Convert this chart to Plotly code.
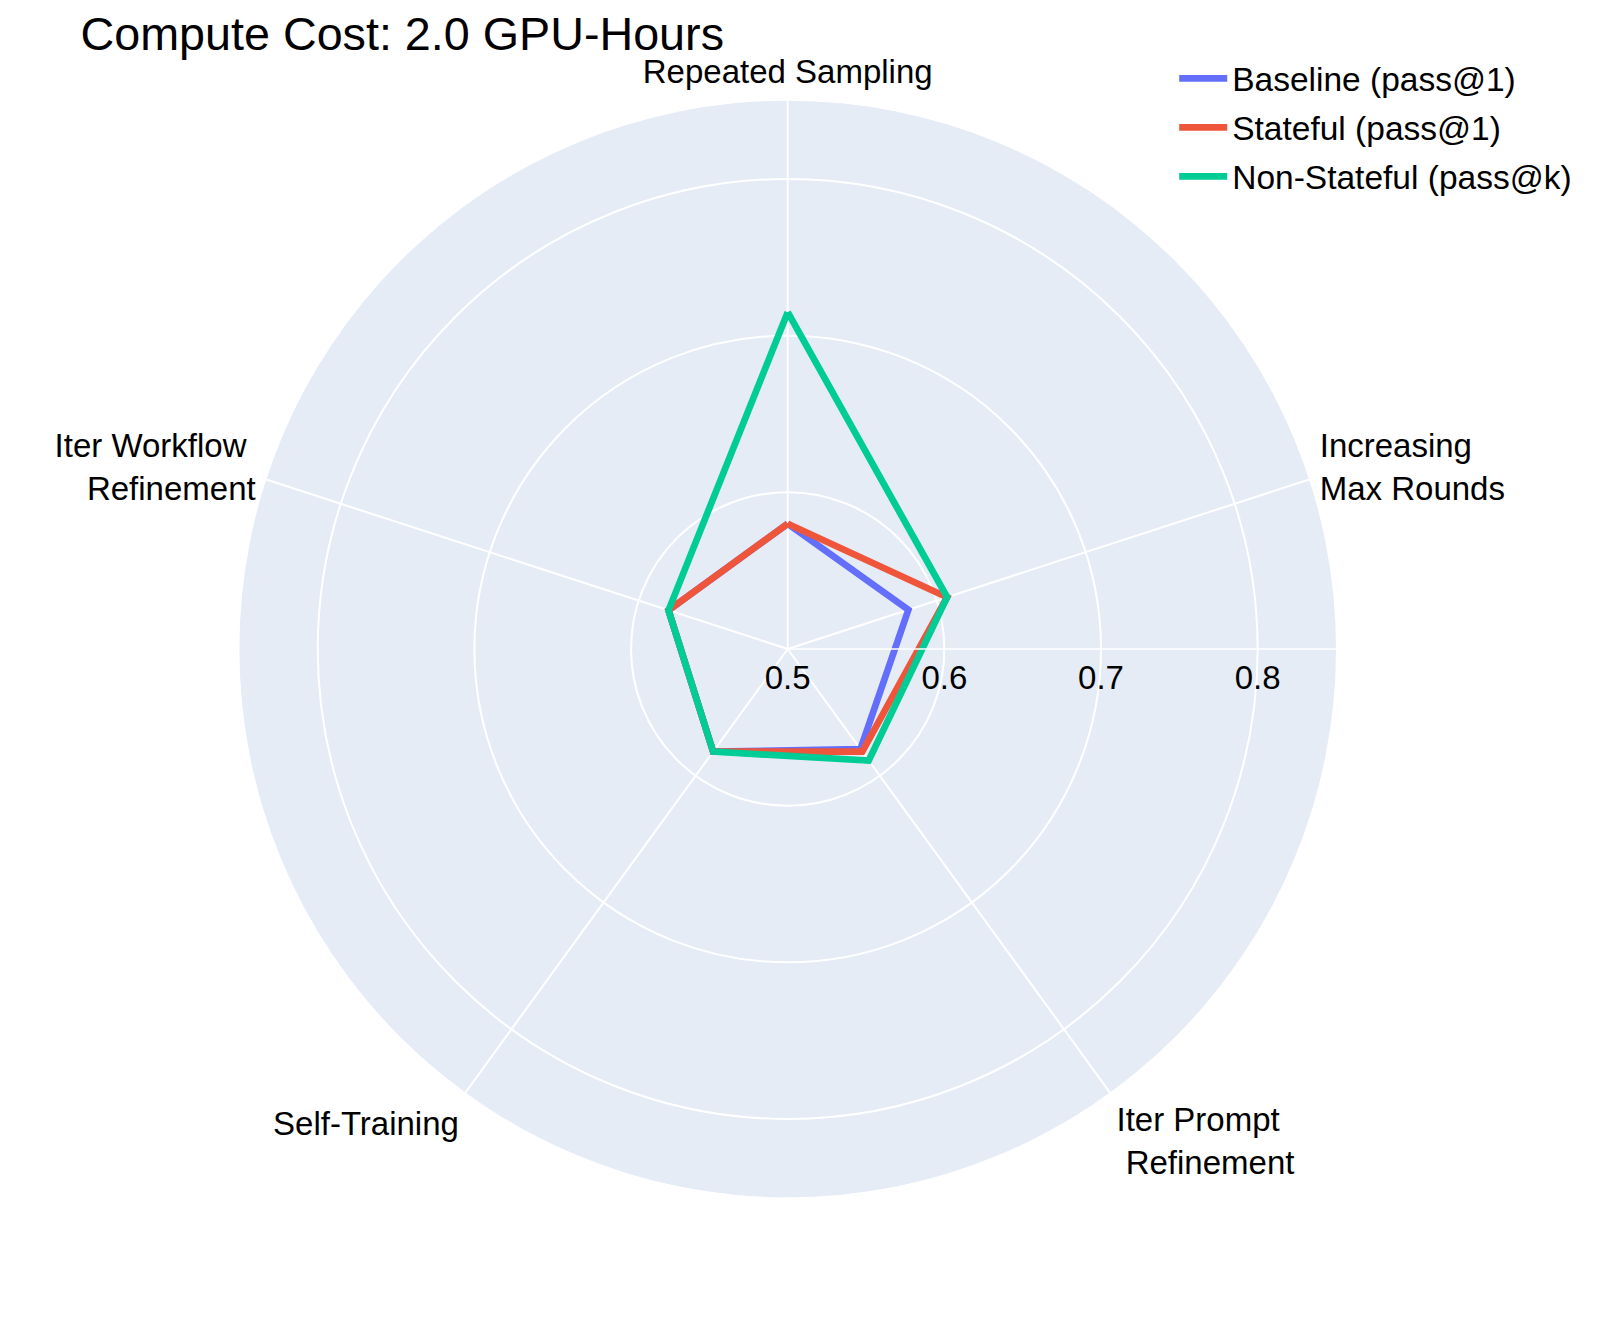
import plotly.graph_objects as go

categories = [
    "Repeated Sampling",
    "Increasing<br>Max Rounds",
    "Iter Prompt <br> Refinement",
    "Self-Training",
    "Iter Workflow <br> Refinement",
]
baseline = [0.580, 0.581, 0.579, 0.581, 0.580]
stateful = [0.580, 0.607, 0.581, 0.581, 0.580]
non_stateful = [0.715, 0.607, 0.588, 0.581, 0.580]

series_names = ["Baseline (pass@1)", "Stateful (pass@1)", "Non-Stateful (pass@k)"]
series_values = [baseline, stateful, non_stateful]
colors = ["#636EFA", "#EF553B", "#00CC96"]

radial_ticks = [0.5, 0.6, 0.7, 0.8]
radial_range = [0.5, 0.85]

W, H = 1584, 1317  # page has 8px body margin in a 1600x1333 window

fig = go.Figure()
for i, (name, vals, col) in enumerate(zip(series_names, series_values, colors)):
    fig.add_trace(go.Scatterpolar(
        r=vals + vals[:1],
        theta=categories + categories[:1],
        mode="lines",
        name=name,
        legendgroup=f"g{i}",
        line=dict(color=col, width=6.7),
    ))

FONT = "Arial, Liberation Sans, Helvetica, sans-serif"
fig.update_layout(
    width=W,
    height=H,
    margin=dict(l=0, r=0, t=0, b=0),
    paper_bgcolor="white",
    font=dict(family=FONT, size=33, color="black"),
    title=dict(
        text="Compute Cost: 2.0 GPU-Hours",
        x=72.5 / W, xanchor="left", xref="container",
        y=1 - 25.7 / H, yanchor="middle", yref="container",
        font=dict(family=FONT, size=46.7, color="black"),
    ),
    polar=dict(
        domain=dict(x=[231.4 / W, 1328 / W], y=[1 - 1189.3 / H, 1 - 92.7 / H]),
        bgcolor="#E5ECF6",
        radialaxis=dict(
            range=radial_range,
            tickvals=radial_ticks,
            ticktext=[f"{v:.1f}" for v in radial_ticks],
            angle=0,
            gridcolor="white",
            gridwidth=1.7,
            linecolor="white",
            linewidth=1.7,
            showline=True,
            ticks="",
            tickfont=dict(size=33, color="black"),
        ),
        angularaxis=dict(
            direction="clockwise",
            rotation=90,
            gridcolor="white",
            gridwidth=1.7,
            showline=False,
            ticks="outside",
            ticklen=4,
            tickcolor="rgba(0,0,0,0)",
            tickfont=dict(size=33, color="black"),
        ),
    ),
    legend=dict(
        x=1166.2 / W, xanchor="left",
        y=1 - 42 / H, yanchor="top",
        bgcolor="rgba(0,0,0,0)",
        tracegroupgap=2.5,
        itemwidth=48,
        font=dict(family=FONT, size=33.5, color="black"),
    ),
    showlegend=True,
)

fig.write_html("out.html")
